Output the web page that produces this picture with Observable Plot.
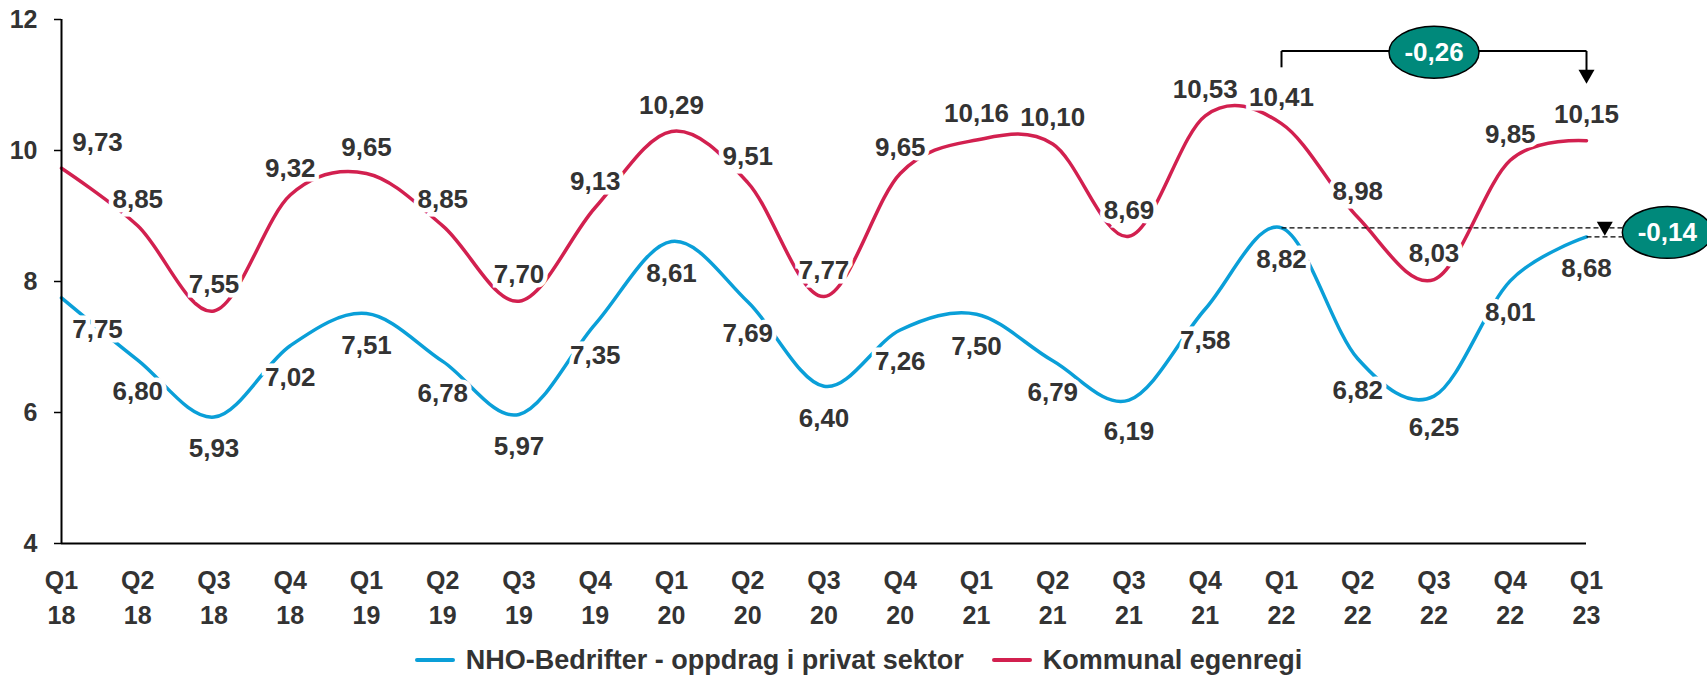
<!DOCTYPE html>
<html><head><meta charset="utf-8">
<script src="https://cdn.jsdelivr.net/npm/d3@7"></script>
<script src="https://cdn.jsdelivr.net/npm/@observablehq/plot@0.6"></script>
<style>
html,body{margin:0;padding:0;background:#fff;overflow:hidden;}
body{font-family:Arial,"Liberation Sans",sans-serif;}
#legend{display:flex;justify-content:center;align-items:center;height:30px;font-size:27px;font-weight:bold;color:#333;padding-left:10px;}
.item{display:flex;align-items:center;margin:0 14px;}
.sw{width:40px;height:4px;border-radius:2px;margin-right:11px;}
</style></head><body>
<div id="chart"></div>
<div id="legend"></div>
<script>
const quarters = ["Q1","Q2","Q3","Q4","Q1","Q2","Q3","Q4","Q1","Q2","Q3","Q4","Q1","Q2","Q3","Q4","Q1","Q2","Q3","Q4","Q1"];
const years    = ["18","18","18","18","19","19","19","19","20","20","20","20","21","21","21","21","22","22","22","22","23"];
const nho      = [7.75,6.80,5.93,7.02,7.51,6.78,5.97,7.35,8.61,7.69,6.40,7.26,7.50,6.79,6.19,7.58,8.82,6.82,6.25,8.01,8.68];
const kommunal = [9.73,8.85,7.55,9.32,9.65,8.85,7.70,9.13,10.29,9.51,7.77,9.65,10.16,10.10,8.69,10.53,10.41,8.98,8.03,9.85,10.15];
const seriesNames  = ["NHO-Bedrifter - oppdrag i privat sektor","Kommunal egenregi"];
const seriesColors = ["#0A9FD8","#D2204F"];
const yTicks = [4,6,8,10,12];

// annotation data (in data units: x = quarter index, y = value)
const bracketSegments = [
  {x1:16, y1:11.27, x2:16, y2:11.52},
  {x1:16, y1:11.52, x2:20, y2:11.52},
  {x1:20, y1:11.52, x2:20, y2:11.15}
];
const arrowTips = [{x:20, y:11.02}, {x:20.24, y:8.70}];
const dashedSegments = [
  {x1:16, y1:8.82, x2:20.47, y2:8.82},
  {x1:20, y1:8.68, x2:20.47, y2:8.68}
];
const badges = [{x:18, y:11.5, label:"-0,26"}, {x:21.06, y:8.75, label:"-0,14"}];

const fmt = v => d3.format(".2f")(v).replace(".", ",");
const rows = [];
quarters.forEach((q, i) => {
  rows.push({i, value: nho[i], series: seriesNames[0]});
  rows.push({i, value: kommunal[i], series: seriesNames[1]});
});
const nhoRows = rows.filter(d => d.series === seriesNames[0]);
const komRows = rows.filter(d => d.series === seriesNames[1]);

const ellipseSymbol = {draw(ctx){
  const rx = 45, ry = 26, k = 0.5523;
  ctx.moveTo(rx, 0);
  ctx.bezierCurveTo(rx, k*ry, k*rx, ry, 0, ry);
  ctx.bezierCurveTo(-k*rx, ry, -rx, k*ry, -rx, 0);
  ctx.bezierCurveTo(-rx, -k*ry, -k*rx, -ry, 0, -ry);
  ctx.bezierCurveTo(k*rx, -ry, rx, -k*ry, rx, 0);
  ctx.closePath();
}};
const downArrow = {draw(ctx){
  ctx.moveTo(0, 0); ctx.lineTo(-8, -14); ctx.lineTo(8, -14); ctx.closePath();
}};

const textColor = "#333";
const labelStyle = {fontSize: 26, fontWeight: "bold", fill: textColor, stroke: "white", strokeWidth: 9, strokeLinejoin: "miter"};

const chart = Plot.plot({
  width: 1707, height: 645,
  marginLeft: 61, marginRight: 121, marginTop: 19, marginBottom: 102,
  x: {type: "linear", domain: [0, 20]},
  y: {domain: [4, 12]},
  color: {domain: seriesNames, range: seriesColors},
  style: {fontFamily: "Arial, 'Liberation Sans', sans-serif", background: "white", overflow: "visible"},
  marks: [
    Plot.axisY({ticks: yTicks, tickSize: 7, tickPadding: 17, fontSize: 25, fontWeight: "bold", fill: textColor, stroke: "black", strokeWidth: 1.5, label: null}),
    Plot.axisX({ticks: d3.range(quarters.length), tickFormat: i => quarters[i] + "\n" + years[i], tickSize: 0, tickPadding: 21, fontSize: 25, fontWeight: "bold", fill: textColor, lineHeight: 1.4, label: null}),
    Plot.line(rows, {x: "i", y: "value", z: "series", stroke: "series", strokeWidth: 3.5, curve: "cardinal"}),
    Plot.text(komRows, {filter: d => d.i > 0, x: "i", y: "value", text: d => fmt(d.value), dy: -26, ...labelStyle}),
    Plot.text(komRows, {filter: d => d.i === 0, x: "i", y: "value", text: d => fmt(d.value), dy: -26, dx: 36, ...labelStyle}),
    Plot.text(nhoRows, {filter: d => d.i > 0, x: "i", y: "value", text: d => fmt(d.value), dy: 32, ...labelStyle}),
    Plot.text(nhoRows, {filter: d => d.i === 0, x: "i", y: "value", text: d => fmt(d.value), dy: 32, dx: 36, ...labelStyle}),
    Plot.ruleX([0], {y1: 4, y2: 12, stroke: "black", strokeWidth: 2}),
    Plot.ruleY([4], {x1: 0, x2: 20, stroke: "black", strokeWidth: 2}),
    Plot.link(dashedSegments, {x1: "x1", y1: "y1", x2: "x2", y2: "y2", stroke: "black", strokeWidth: 1.2, strokeDasharray: "5,3"}),
    Plot.link(bracketSegments, {x1: "x1", y1: "y1", x2: "x2", y2: "y2", stroke: "black", strokeWidth: 2}),
    Plot.dot(arrowTips, {x: "x", y: "y", symbol: downArrow, fill: "black", stroke: "none"}),
    Plot.dot(badges, {x: "x", y: "y", symbol: ellipseSymbol, fill: "#00897B", stroke: "black", strokeWidth: 1.5}),
    Plot.text(badges, {x: "x", y: "y", text: "label", fill: "white", fontSize: 26, fontWeight: "bold"})
  ]
});
document.getElementById("chart").appendChild(chart);

const legend = document.getElementById("legend");
seriesNames.forEach((name, k) => {
  const item = document.createElement("div");
  item.className = "item";
  const sw = document.createElement("span");
  sw.className = "sw";
  sw.style.background = seriesColors[k];
  const t = document.createElement("span");
  t.textContent = name;
  item.appendChild(sw); item.appendChild(t);
  legend.appendChild(item);
});
</script>
</body></html>
